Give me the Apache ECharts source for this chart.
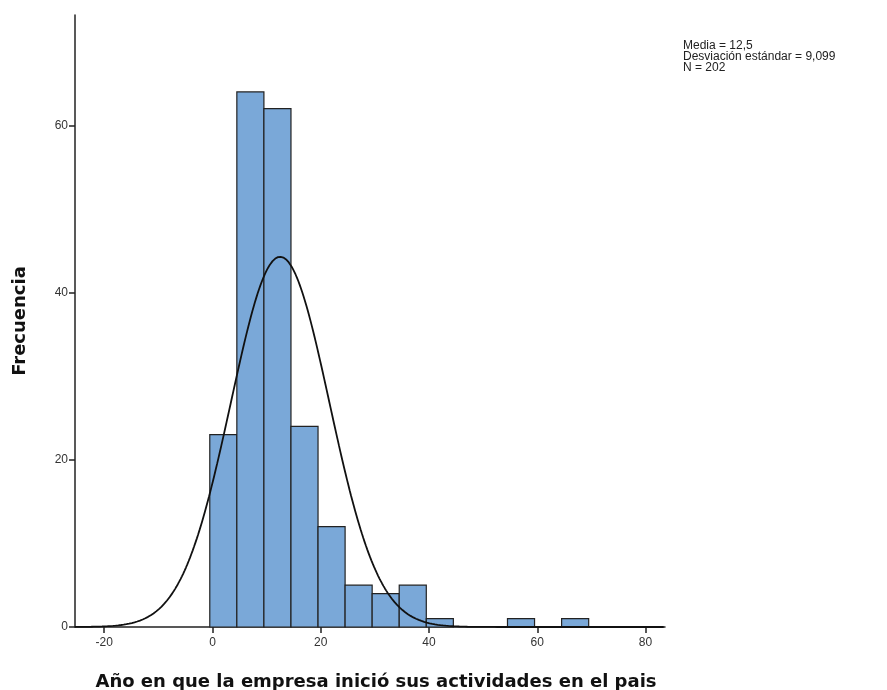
<!DOCTYPE html>
<html>
<head>
<meta charset="utf-8">
<script src="https://cdn.jsdelivr.net/npm/echarts@6/dist/echarts.min.js"></script>
<style>html,body{margin:0;padding:0;background:#fff;}#c{width:887px;height:690px;}</style>
</head>
<body>
<div id="c"></div>
<script>
// Histogram bins (lower edge) and frequencies
const binStarts = [-0.5, 4.5, 9.5, 14.5, 19.5, 24.5, 29.5, 34.5, 39.5, 44.5, 49.5, 54.5, 59.5, 64.5];
const binWidth = 5;
const counts = [23, 64, 62, 24, 12, 5, 4, 5, 1, 0, 0, 1, 0, 1];
// Stats shown in the chart
const mean = 12.5;
const sd = 9.099;
const n = 202;
const statsLines = ['Media = 12,5', 'Desviación estándar = 9,099', 'N = 202'];
const xTicks = [-20, 0, 20, 40, 60, 80];
const yTicks = [0, 20, 40, 60];

const histData = binStarts.map((s, i) => [s, s + binWidth, counts[i]]).filter(d => d[2] > 0);

// Normal curve scaled to frequencies (from stated mean, sd, N)
const curve = [];
for (let x = -25.4; x <= 83.5; x += 0.25) {
  const z = (x - mean) / sd;
  curve.push([x, n * binWidth * Math.exp(-0.5 * z * z) / (sd * Math.sqrt(2 * Math.PI))]);
}

const chart = echarts.init(document.getElementById('c'));
chart.setOption({
  animation: false,
  backgroundColor: '#fff',
  textStyle: { fontFamily: 'Liberation Sans, Arial, sans-serif' },
  grid: { left: 75, right: 222, top: 15, bottom: 63, containLabel: false, outerBoundsMode: 'none' },
  graphic: [{
    type: 'text', left: 683, top: 40,
    style: { text: statsLines.join('\n'), font: '12px Liberation Sans, Arial, sans-serif', fill: '#222', lineHeight: 11 }
  }],
  xAxis: {
    type: 'value', min: -25.4, max: 83.6, interval: 20,
    splitLine: { show: false },
    axisLine: { onZero: false, lineStyle: { color: '#222', width: 1.5 } },
    axisTick: { show: true, length: 6, lineStyle: { color: '#222', width: 1.5 }, customValues: xTicks },
    axisLabel: { color: '#333', fontSize: 12, margin: 10, customValues: xTicks },
    name: 'Año en que la empresa inició sus actividades en el pais',
    nameLocation: 'middle', nameGap: 46,
    nameTextStyle: { fontSize: 18, fontWeight: 'bold', color: '#111', fontFamily: 'DejaVu Sans', padding: [0, 0, 0, 12] }
  },
  yAxis: {
    type: 'value', min: 0, max: 73.2,
    splitLine: { show: false },
    axisLine: { show: true, onZero: false, lineStyle: { color: '#222', width: 1.5 } },
    axisTick: { show: true, length: 6, lineStyle: { color: '#222', width: 1.5 }, customValues: yTicks },
    axisLabel: { color: '#333', fontSize: 12, margin: 7, customValues: yTicks },
    name: 'Frecuencia', nameLocation: 'middle', nameGap: 46,
    nameTextStyle: { fontSize: 18, fontWeight: 'bold', color: '#111', fontFamily: 'DejaVu Sans' }
  },
  series: [{
    type: 'custom',
    data: histData,
    encode: { x: [0, 1], y: 2 },
    renderItem: function (params, api) {
      const p0 = api.coord([api.value(0), api.value(2)]);
      const p1 = api.coord([api.value(1), 0]);
      return {
        type: 'rect',
        shape: { x: p0[0], y: p0[1], width: p1[0] - p0[0], height: p1[1] - p0[1] },
        style: { fill: '#7aa8d8', stroke: '#222', lineWidth: 1.2 }
      };
    },
    z: 2
  }, {
    type: 'line',
    data: curve,
    showSymbol: false,
    smooth: false,
    lineStyle: { color: '#111', width: 1.8 },
    z: 3
  }]
});
</script>
</body>
</html>
